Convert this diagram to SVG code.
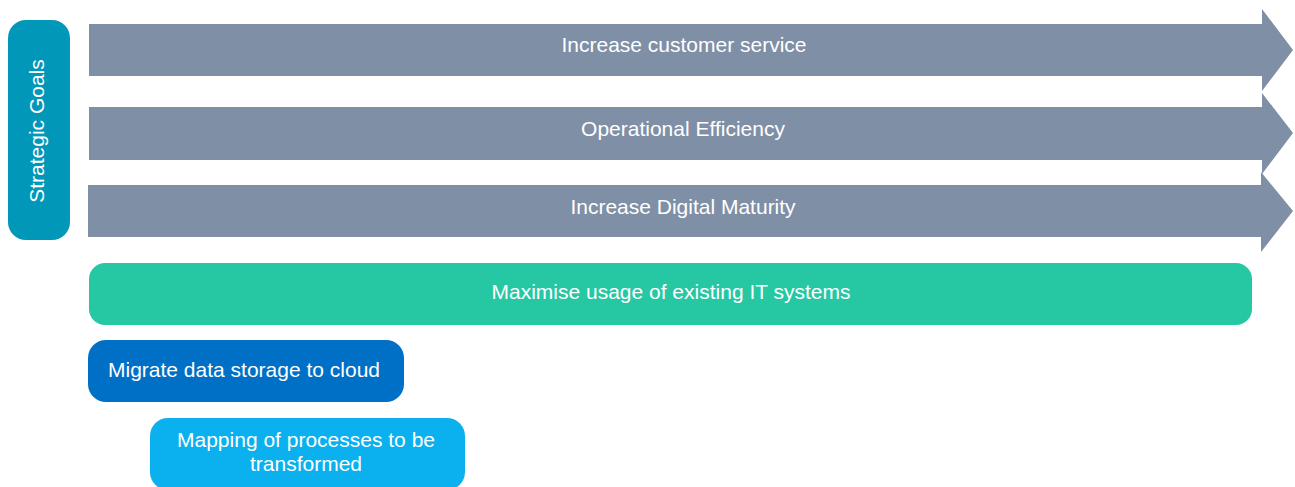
<svg xmlns="http://www.w3.org/2000/svg" width="1295" height="487" viewBox="0 0 1295 487">
<style>
text{font-family:"Liberation Sans",Arial,sans-serif;font-size:21px;fill:#fff;text-anchor:middle;dominant-baseline:central}
.arrow{fill:#7F8FA6}
</style>
<rect width="1295" height="487" fill="#fff"/>
<g id="strategic-goals">
<rect x="8" y="20" width="62" height="220" rx="18" fill="#0097B9"/>
<text transform="translate(36,131) rotate(-90)">Strategic Goals</text>
</g>
<g id="goal-customer-service">
<path class="arrow" d="M89,24 H1262 V9 L1293,50 L1262,91 V76 H89 Z"/>
<text x="684" y="44">Increase customer service</text>
</g>
<g id="goal-operational-efficiency">
<path class="arrow" d="M89,107 H1262 V93 L1293,133 L1262,174 V160 H89 Z"/>
<text x="683" y="128">Operational Efficiency</text>
</g>
<g id="goal-digital-maturity">
<path class="arrow" d="M88,185 H1261 V172 L1293,211 L1261,252 V237 H88 Z"/>
<text x="683" y="206">Increase Digital Maturity</text>
</g>
<g id="maximise-it">
<rect x="89" y="263" width="1163" height="62" rx="16" fill="#26C7A3"/>
<text x="671" y="291">Maximise usage of existing IT systems</text>
</g>
<g id="migrate-cloud">
<rect x="88" y="340" width="316" height="62" rx="18" fill="#0070C6"/>
<text x="244" y="369">Migrate data storage to cloud</text>
</g>
<g id="mapping-processes">
<rect x="150" y="418" width="315" height="72" rx="18" fill="#0BB0EF"/>
<text x="306" y="439">Mapping of processes to be</text>
<text x="306" y="463">transformed</text>
</g>
<g id="connectors"></g>
</svg>
